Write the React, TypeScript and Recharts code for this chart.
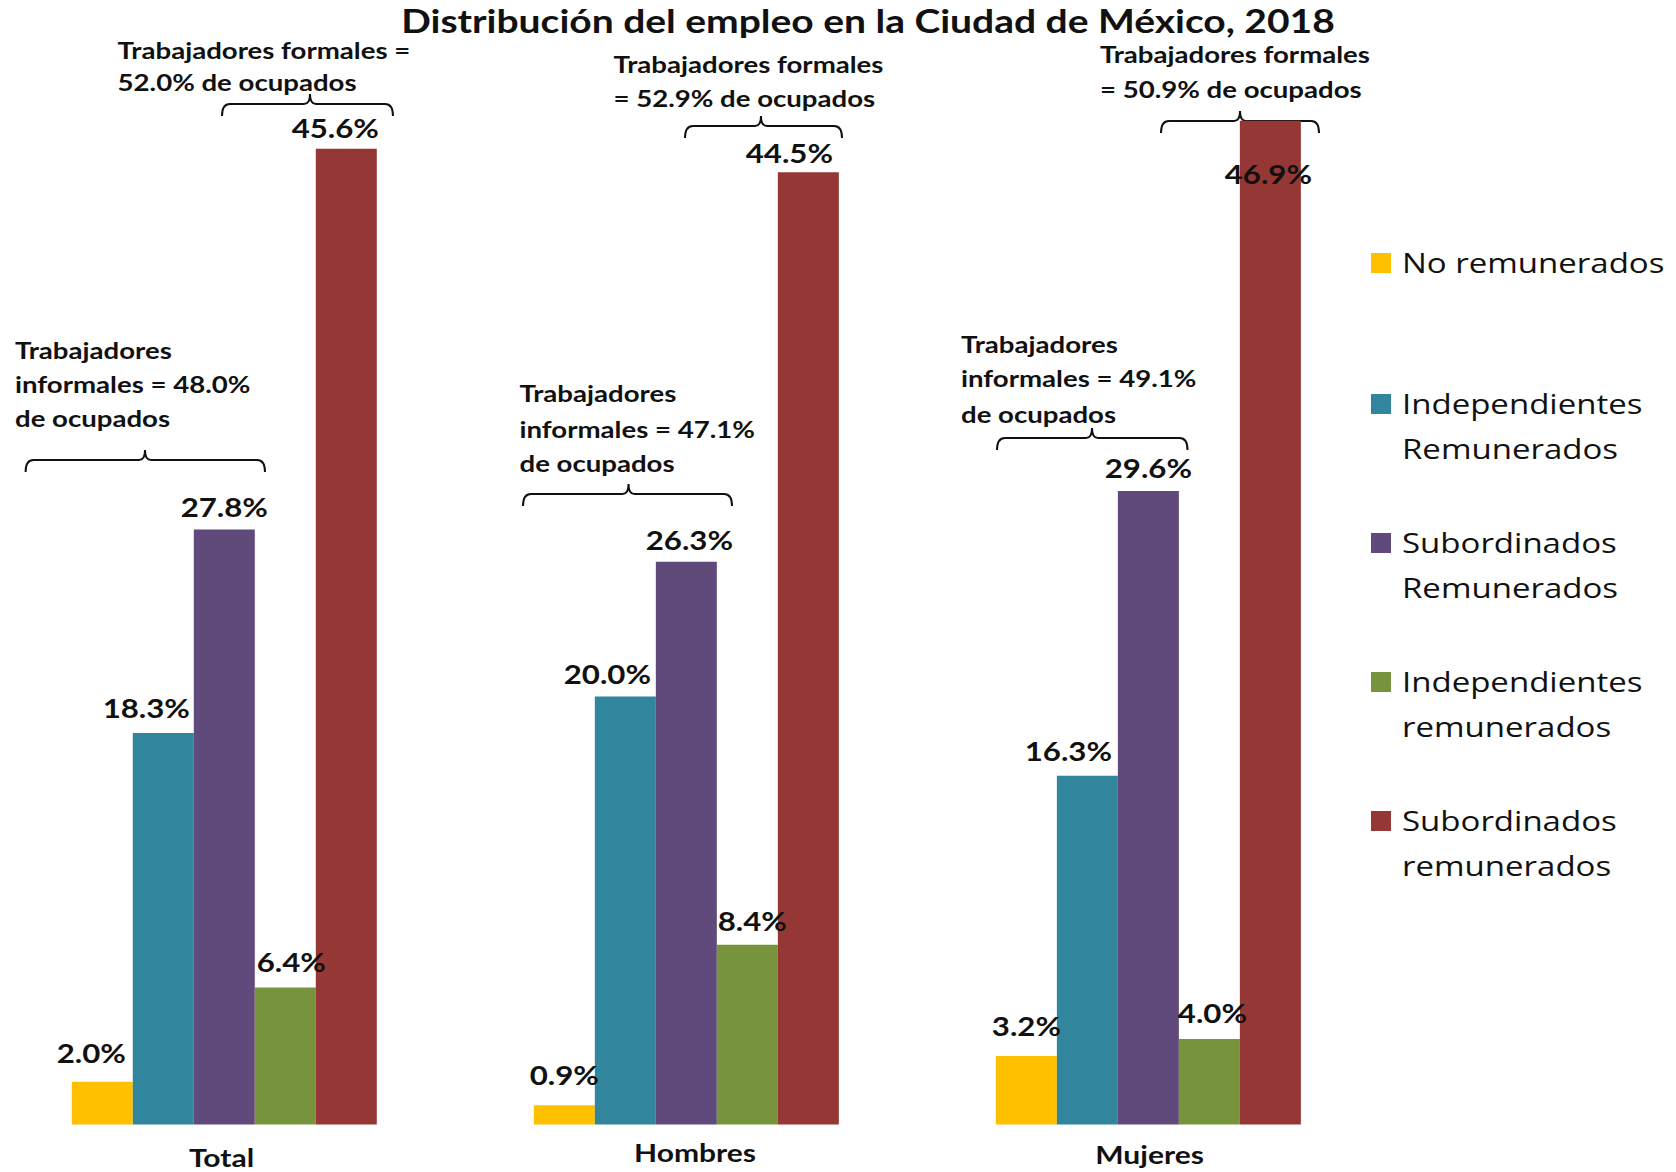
import React from 'react';
import { BarChart, Bar, XAxis, YAxis, Legend, LabelList, Customized } from 'recharts';

// ---------- data ----------
const categories = ['Total', 'Hombres', 'Mujeres'];
const noRemunerados = [2.0, 0.9, 3.2];
const independientesRemuneradosA = [18.3, 20.0, 16.3];
const subordinadosRemuneradosA = [27.8, 26.3, 29.6];
const independientesRemuneradosB = [6.4, 8.4, 4.0];
const subordinadosRemuneradosB = [45.6, 44.5, 46.9];
const formalShare = [52.0, 52.9, 50.9];
const informalShare = [48.0, 47.1, 49.1];

const seriesNames = [
  'No remunerados',
  'Independientes\nRemunerados',
  'Subordinados\nRemunerados',
  'Independientes\nremunerados',
  'Subordinados\nremunerados',
];
const seriesValues = [
  noRemunerados,
  independientesRemuneradosA,
  subordinadosRemuneradosA,
  independientesRemuneradosB,
  subordinadosRemuneradosB,
];
const seriesColors = ['#FFC000', '#31859C', '#604A7B', '#77933C', '#953735'];
const seriesKeys = ['s0', 's1', 's2', 's3', 's4'];

const data = categories.map((c, i) => {
  const row: any = { name: c };
  seriesKeys.forEach((k, si) => (row[k] = seriesValues[si][i]));
  return row;
});

// ---------- layout (styling only) ----------
const FONT = 'Lato, "Open Sans", sans-serif';
const CHART_OFFSET_X = -30;
const SX = 1.2; // horizontal stretch of the reference's lettering

// [dx, distance of label centre above bar top] per series, per category
const labelOffsets: number[][][] = [
  [[-11, 29], [0, 30], [0, 30]],
  [[-17, 25], [-18, 22], [-19, 25]],
  [[0, 23], [3, 22], [0, 23]],
  [[6, 25], [5, 24], [3, 26]],
  [[-11, 21], [-19, 19], [-2, -53]],
];

const tickCenters = [1157, 1152, 1154];
const tickDx = [-4, 7.5, 0];

const formalLayout = [
  { x: 117.6, ys: [50, 82], brace: { x1: 222, x2: 393, y: 104, xm: 310 } },
  { x: 613.5, ys: [64, 98], brace: { x1: 685, x2: 842, y: 126, xm: 761 } },
  { x: 1100, ys: [53.5, 89], brace: { x1: 1161, x2: 1319, y: 121, xm: 1240 } },
];
const informalLayout = [
  { x: 15, ys: [349.5, 384, 418], brace: { x1: 25.6, x2: 265, y: 460, xm: 145 } },
  { x: 519.5, ys: [393, 428.6, 463], brace: { x1: 523, x2: 732, y: 494, xm: 628.5 } },
  { x: 961, ys: [344, 378, 413.7], brace: { x1: 997, x2: 1187.5, y: 438, xm: 1092 } },
];

const fmt = (v: number) => `${Number(v).toFixed(1)}%`;

function SText({ x, y, anchor = 'start', size, weight = 700, children }: any) {
  return (
    <text transform={`translate(${x} ${y}) scale(${SX} 1)`} x={0} y={0} textAnchor={anchor}
      dominantBaseline="central"
      style={{ fontFamily: FONT, fontSize: size, fontWeight: weight, fill: '#111' }}>
      {children}
    </text>
  );
}

function Brace({ x1, x2, y, xm, h = 12, t = 10 }: any) {
  const r = 8;
  const d = `M ${x1} ${y + h} Q ${x1} ${y} ${x1 + r} ${y} L ${xm - 6} ${y} Q ${xm} ${y} ${xm} ${y - t} Q ${xm} ${y} ${xm + 6} ${y} L ${x2 - r} ${y} Q ${x2} ${y} ${x2} ${y + h}`;
  return <path d={d} fill="none" stroke="#111" strokeWidth={2} />;
}

function Annotations() {
  return (
    <g transform={`translate(${-CHART_OFFSET_X}, 0)`}>
      <SText x={868} y={21} anchor="middle" size={32.5}>
        Distribución del empleo en la Ciudad de México, 2018
      </SText>
      {formalLayout.map((f, i) => {
        const lines = i === 0
          ? ['Trabajadores formales =', `${formalShare[i].toFixed(1)}% de ocupados`]
          : ['Trabajadores formales', `= ${formalShare[i].toFixed(1)}% de ocupados`];
        return (
          <g key={`f${i}`}>
            {lines.map((l, li) => (
              <SText key={li} x={f.x} y={f.ys[li]} size={23}>{l}</SText>
            ))}
            <Brace {...f.brace} />
          </g>
        );
      })}
      {informalLayout.map((f, i) => {
        const lines = ['Trabajadores', `informales = ${informalShare[i].toFixed(1)}%`, 'de ocupados'];
        return (
          <g key={`i${i}`}>
            {lines.map((l, li) => (
              <SText key={li} x={f.x} y={f.ys[li]} size={23}>{l}</SText>
            ))}
            <Brace {...f.brace} />
          </g>
        );
      })}
    </g>
  );
}

const makeLabel = (si: number) => (props: any) => {
  const vb = props.viewBox || {};
  const x = vb.x ?? props.x;
  const y = vb.y ?? props.y;
  const width = vb.width ?? props.width;
  let idx = props.index;
  if (idx == null || idx < 0 || idx > 2) idx = seriesValues[si].indexOf(Number(props.value));
  const off = labelOffsets[si][idx] || [0, 22];
  return (
    <SText x={x + width / 2 + off[0]} y={y - off[1]} anchor="middle" size={26}>
      {fmt(props.value)}
    </SText>
  );
};

function CategoryTick(props: any) {
  const { x, payload } = props;
  let idx = payload?.index;
  if (idx == null) idx = categories.indexOf(payload?.value);
  return (
    <SText x={x + (tickDx[idx] ?? 0)} y={tickCenters[idx] ?? 1155} anchor="middle" size={25}>
      {payload.value}
    </SText>
  );
}

function LegendContent() {
  const centers = [263, 404, 543, 682, 821];
  return (
    <div style={{ position: 'relative', width: 300, height: 900 }}>
      {seriesNames.map((name, i) => {
        const lines = name.split('\n');
        const c = centers[i];
        return (
          <div key={i}>
            <div style={{ position: 'absolute', left: 0, top: c - 10, width: 20, height: 20, background: seriesColors[i] }} />
            {lines.map((l, li) => (
              <div key={li} style={{
                position: 'absolute', left: 31, top: c - 22 + li * 45, height: 44, lineHeight: '44px',
                fontFamily: '"Open Sans", sans-serif', fontSize: 27.5, color: '#111', whiteSpace: 'nowrap',
                transform: `scaleX(${SX})`, transformOrigin: 'left center',
              }}>{l}</div>
            ))}
          </div>
        );
      })}
    </div>
  );
}

export default function App() {
  return (
    <div style={{ position: 'absolute', left: 0, top: 0, width: 1676, height: 1172, overflow: 'hidden', background: '#fff' }}>
      <div style={{ position: 'absolute', left: CHART_OFFSET_X, top: 0 }}>
        <BarChart width={1720} height={1172} data={data}
          margin={{ top: 54.5, right: 309.4, bottom: 7.5, left: 24.5 }}
          barCategoryGap={77.3} barGap={0}>
          <XAxis dataKey="name" axisLine={false} tickLine={false} height={40} interval={0} tick={<CategoryTick />} />
          <YAxis hide domain={[0, 50]} />
          <Legend layout="vertical" align="center" verticalAlign="middle" content={<LegendContent />}
            wrapperStyle={{ position: 'absolute', left: 1371 - CHART_OFFSET_X, top: 0, width: 300, height: 900 }} />
          {seriesKeys.map((k, si) => (
            <Bar key={k} dataKey={k} name={seriesNames[si]} fill={seriesColors[si]} isAnimationActive={false}>
              <LabelList dataKey={k} content={makeLabel(si)} />
            </Bar>
          ))}
          <Customized component={Annotations} />
        </BarChart>
      </div>
    </div>
  );
}
